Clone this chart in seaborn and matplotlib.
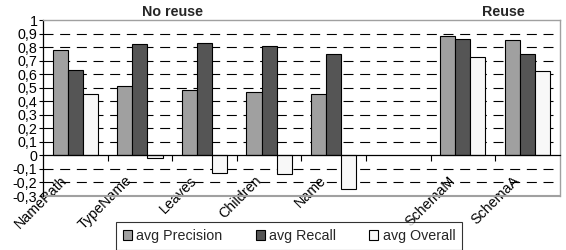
import numpy as np
import pandas as pd
import matplotlib
matplotlib.use("Agg")
import matplotlib.pyplot as plt
import matplotlib.transforms as mtransforms
from matplotlib.ticker import FuncFormatter, MultipleLocator
import seaborn as sns

# veriler
categories = ["NamePath", "TypeName", "Leaves", "Children", "Name", " ", "SchemaM", "SchemaA"]
series = ["avg Precision", "avg Recall", "avg Overall"]
precision = [0.78, 0.51, 0.48, 0.47, 0.45, np.nan, 0.88, 0.85]
recall = [0.63, 0.82, 0.83, 0.81, 0.75, np.nan, 0.86, 0.75]
overall = [0.45, -0.02, -0.13, -0.14, -0.25, np.nan, 0.73, 0.62]
colors = ["#a0a0a0", "#555555", "#f8f8f8"]

rows = []
for s, vals in zip(series, [precision, recall, overall]):
    for c, v in zip(categories, vals):
        if not np.isnan(v):
            rows.append({"cat": c, "series": s, "value": v})
df = pd.DataFrame(rows)

sns.set_theme(style="white")
plt.rcParams["font.family"] = ["Liberation Sans", "DejaVu Sans"]
fs = 10.3

fig = plt.figure(figsize=(5.66, 2.5), dpi=100)
ax = fig.add_axes([0.076, 0.216, 0.913, 0.704])

sns.barplot(ax=ax, data=df, x="cat", y="value", hue="series", order=categories,
            hue_order=series, palette=colors, width=0.7, gap=0,
            edgecolor="black", linewidth=0.8, saturation=1, errorbar=None)
for p in ax.patches:
    p.set_zorder(3)

ax.set_ylim(-0.3, 1)
ax.set_xlim(-0.5, len(categories) - 0.5)

# kesikli yatay çizgiler
for v in np.arange(-0.2, 0.95, 0.1):
    if abs(v) > 1e-6:
        ax.axhline(v, color="black", lw=0.8, dashes=(9, 6), zorder=1)

ax.yaxis.set_major_locator(MultipleLocator(0.1))
def fmt(v, pos):
    v = round(v, 1)
    if abs(v) < 1e-9:
        return "0"
    return ("%g" % v).replace(".", ",")
ax.yaxis.set_major_formatter(FuncFormatter(fmt))
ax.tick_params(axis="y", left=True, length=3, width=0.8, color="black",
               labelsize=fs, pad=1, labelcolor="black")

# x ekseni sıfırda
ax.spines["bottom"].set_position(("data", 0))
ax.spines["bottom"].set_color("black")
ax.spines["bottom"].set_linewidth(0.9)
ax.spines["bottom"].set_zorder(4)
ax.spines["left"].set_color("black")
ax.spines["left"].set_linewidth(0.9)
for side in ["top", "right"]:
    ax.spines[side].set_color("#a0a0a0")
    ax.spines[side].set_linewidth(1)
ax.axhline(-0.3, color="#a0a0a0", lw=1.5, zorder=1, clip_on=False)

ax.set_xticks(range(len(categories)))
ax.set_xticks(np.arange(0.5, len(categories) - 1, 1), minor=True)
ax.tick_params(axis="x", which="major", length=0, pad=13, labelsize=fs,
               labelcolor="black")
ax.tick_params(axis="x", which="minor", bottom=True, length=4, width=0.8,
               color="black", direction="out")
ax.set_xticklabels(categories, rotation=45, ha="right")
offset = mtransforms.ScaledTranslation(-5 / 100, 0, fig.dpi_scale_trans)
for lbl in ax.get_xticklabels():
    lbl.set_transform(lbl.get_transform() + offset)

ax.set_xlabel("")
ax.set_ylabel("")

fig.text(173 / 566, 1 - 12 / 250, "No reuse", ha="center", va="center",
         fontsize=fs, fontweight="bold")
fig.text(503 / 566, 1 - 12 / 250, "Reuse", ha="center", va="center",
         fontsize=fs, fontweight="bold")

ax.legend_.remove()
handles = [plt.Rectangle((0, 0), 1, 1, facecolor=c, edgecolor="black", lw=0.8)
           for c in colors]
leg = fig.legend(handles, series, ncol=3, loc="upper center",
                 bbox_to_anchor=(289 / 566, 1 - 222 / 250), fontsize=fs,
                 frameon=True, fancybox=False, handlelength=0.65, handleheight=0.65,
                 handletextpad=0.3, columnspacing=2.3, borderpad=0.5,
                 borderaxespad=0)
leg.get_frame().set_edgecolor("black")
leg.get_frame().set_linewidth(0.8)

fig.savefig("out.png", dpi=100)
